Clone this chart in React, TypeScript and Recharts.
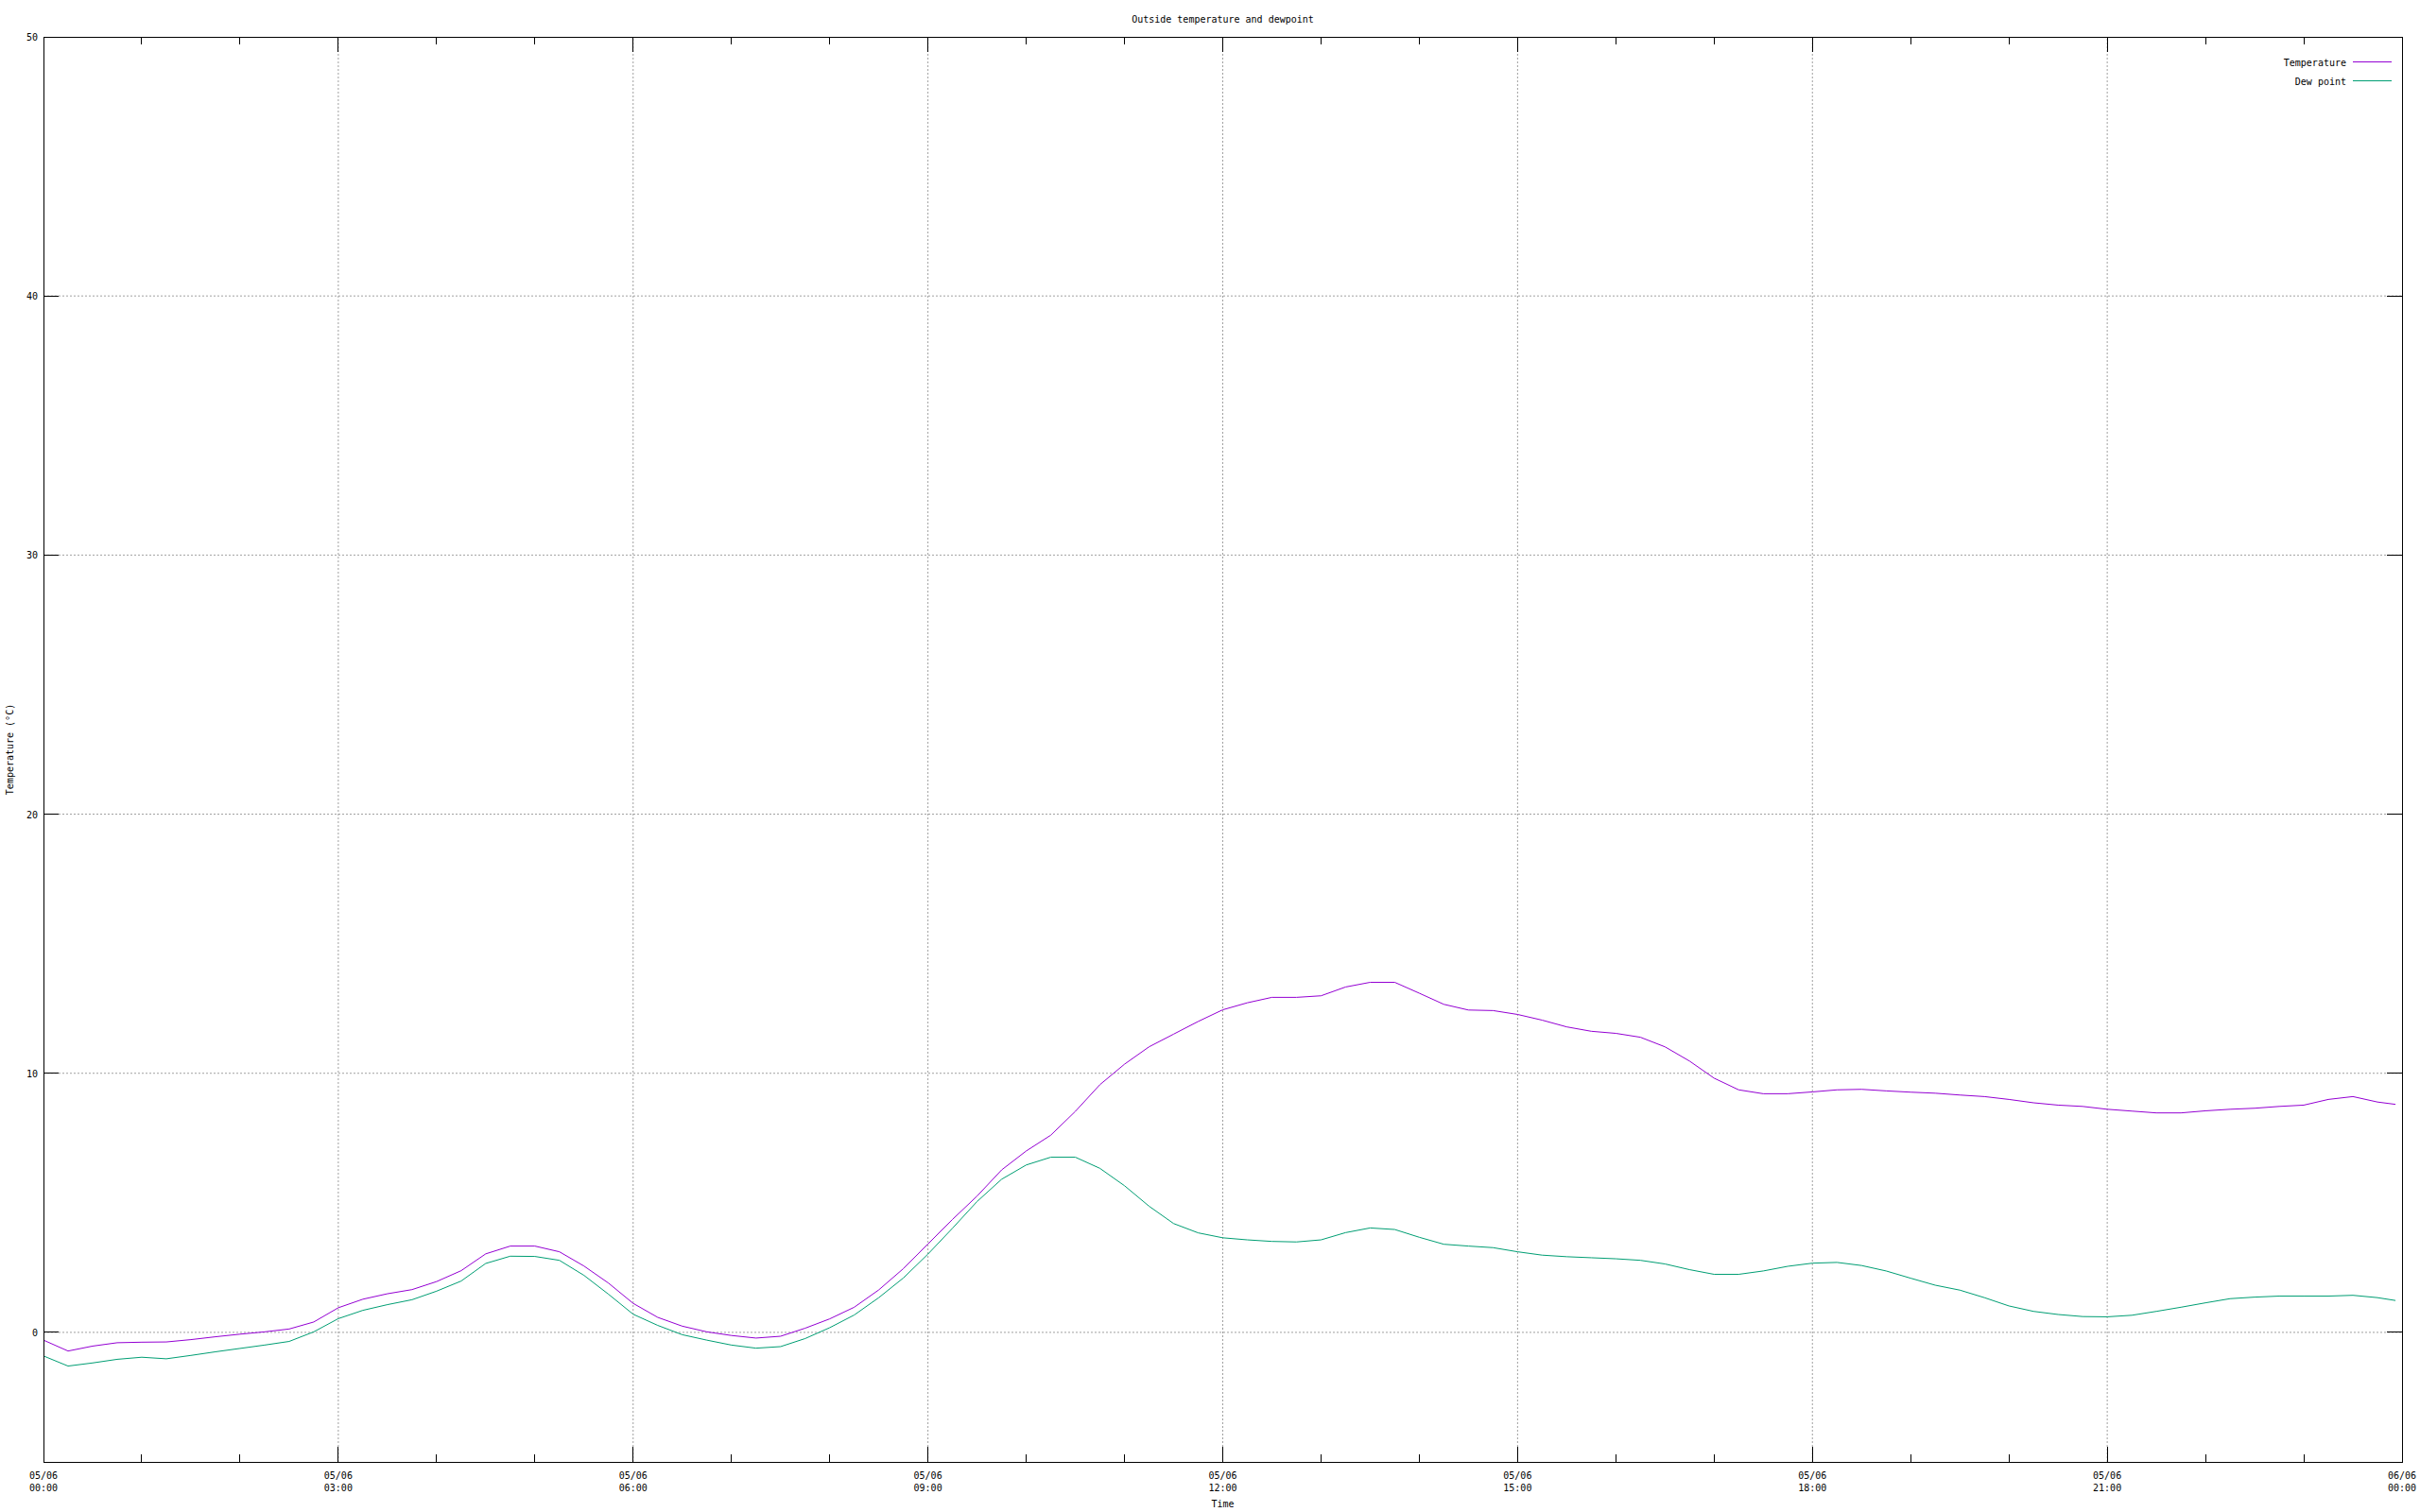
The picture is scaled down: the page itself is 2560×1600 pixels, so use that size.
import React from 'react';
import { LineChart, Line, XAxis, YAxis, ReferenceLine, ReferenceArea } from 'recharts';

// sample times (05/06), one reading per quarter hour
const times = [
  '00:00', '00:15', '00:30', '00:45', '01:00', '01:15', '01:30', '01:45',
  '02:00', '02:15', '02:30', '02:45', '03:00', '03:15', '03:30', '03:45',
  '04:00', '04:15', '04:30', '04:45', '05:00', '05:15', '05:30', '05:45',
  '06:00', '06:15', '06:30', '06:45', '07:00', '07:15', '07:30', '07:45',
  '08:00', '08:15', '08:30', '08:45', '09:00', '09:15', '09:30', '09:45',
  '10:00', '10:15', '10:30', '10:45', '11:00', '11:15', '11:30', '11:45',
  '12:00', '12:15', '12:30', '12:45', '13:00', '13:15', '13:30', '13:45',
  '14:00', '14:15', '14:30', '14:45', '15:00', '15:15', '15:30', '15:45',
  '16:00', '16:15', '16:30', '16:45', '17:00', '17:15', '17:30', '17:45',
  '18:00', '18:15', '18:30', '18:45', '19:00', '19:15', '19:30', '19:45',
  '20:00', '20:15', '20:30', '20:45', '21:00', '21:15', '21:30', '21:45',
  '22:00', '22:15', '22:30', '22:45', '23:00', '23:15', '23:30', '23:45',
  '23:56',
];

const temperature = [
  -0.30, -0.72, -0.53, -0.40, -0.38, -0.37, -0.28, -0.17,
  -0.07, 0.02, 0.13, 0.40, 0.95, 1.28, 1.49, 1.65,
  1.96, 2.38, 3.03, 3.33, 3.33, 3.11, 2.56, 1.90,
  1.12, 0.58, 0.24, 0.02, -0.12, -0.22, -0.15, 0.16,
  0.52, 0.97, 1.64, 2.46, 3.41, 4.36, 5.26, 6.27,
  7.00, 7.61, 8.53, 9.56, 10.35, 11.02, 11.51, 12.00,
  12.45, 12.72, 12.93, 12.93, 12.99, 13.33, 13.51, 13.51,
  13.09, 12.66, 12.44, 12.42, 12.27, 12.05, 11.79, 11.62,
  11.54, 11.39, 11.02, 10.47, 9.81, 9.36, 9.21, 9.21,
  9.28, 9.36, 9.38, 9.32, 9.27, 9.23, 9.16, 9.10,
  8.99, 8.86, 8.77, 8.72, 8.61, 8.54, 8.47, 8.47,
  8.55, 8.61, 8.65, 8.72, 8.77, 8.99, 9.10, 8.89,
  8.80,
];

const dewPoint = [
  -0.91, -1.30, -1.18, -1.04, -0.96, -1.02, -0.89, -0.75,
  -0.62, -0.49, -0.35, 0.02, 0.53, 0.85, 1.07, 1.26,
  1.59, 1.98, 2.66, 2.94, 2.93, 2.78, 2.20, 1.47,
  0.70, 0.27, -0.09, -0.30, -0.49, -0.61, -0.55, -0.24,
  0.18, 0.67, 1.34, 2.10, 3.02, 4.02, 5.05, 5.91,
  6.46, 6.76, 6.76, 6.33, 5.66, 4.87, 4.20, 3.84,
  3.65, 3.57, 3.51, 3.49, 3.57, 3.85, 4.03, 3.97,
  3.67, 3.40, 3.33, 3.27, 3.11, 2.98, 2.92, 2.88,
  2.84, 2.78, 2.64, 2.42, 2.24, 2.24, 2.37, 2.55,
  2.67, 2.70, 2.58, 2.37, 2.09, 1.82, 1.63, 1.34,
  1.02, 0.81, 0.69, 0.61, 0.60, 0.66, 0.81, 0.97,
  1.14, 1.30, 1.36, 1.40, 1.40, 1.40, 1.43, 1.34,
  1.23,
];

// x axis: a tick every hour, labelled every 3 hours
const hourTicks = [0, 1, 2, 3, 4, 5, 6, 7, 8, 9, 10, 11, 12, 13, 14, 15, 16, 17, 18, 19, 20, 21, 22, 23, 24];
const dateLabels = ['05/06', '05/06', '05/06', '05/06', '05/06', '05/06', '05/06', '05/06', '06/06'];
const timeLabels = ['00:00', '03:00', '06:00', '09:00', '12:00', '15:00', '18:00', '21:00', '00:00'];
const gridHours = [3, 6, 9, 12, 15, 18, 21];

const tempTicks = [0, 10, 20, 30, 40, 50];
const gridTemps = [0, 10, 20, 30, 40];

const W = 2560;
const H = 1600;
const LEFT = 46;
const RIGHT = 2541;
const TOP = 39;
const BOTTOM = 1547;

const FONT = '"DejaVu Sans Mono", "Liberation Mono", monospace';
const TEMP_COLOR = '#9400d3';
const DEW_COLOR = '#009e73';
const GRID_COLOR = '#a0a0a0';

const toHours = (t: string) => {
  const [hh, mm] = t.split(':').map(Number);
  return hh + mm / 60;
};

const data = times.map((t, i) => ({
  h: toHours(t),
  temperature: temperature[i],
  dewPoint: dewPoint[i],
}));

// ticks go inward, mirrored on the top border
const BottomTick = ({ x, y, payload }: any) => {
  const h = payload.value;
  const major = h % 3 === 0;
  const len = major ? 16 : 8;
  return (
    <g shapeRendering="crispEdges">
      <line x1={x} x2={x} y1={y} y2={y - len} stroke="#000" />
      <line x1={x} x2={x} y1={TOP} y2={TOP + len} stroke="#000" />
      {major && (
        <text x={x} y={y + 18} textAnchor="middle" fontFamily={FONT} fontSize={10} fill="#000">
          <tspan x={x}>{dateLabels[h / 3]}</tspan>
          <tspan x={x} dy={13}>{timeLabels[h / 3]}</tspan>
        </text>
      )}
    </g>
  );
};

const LeftTick = ({ x, y, payload }: any) => (
  <g shapeRendering="crispEdges">
    <line x1={x} x2={x + 16} y1={y} y2={y} stroke="#000" />
    <line x1={RIGHT} x2={RIGHT - 16} y1={y} y2={y} stroke="#000" />
    <text x={x - 6} y={y + 4} textAnchor="end" fontFamily={FONT} fontSize={10} fill="#000">
      {payload.value}
    </text>
  </g>
);

export default function App() {
  const midX = (LEFT + RIGHT) / 2;
  const midY = (TOP + BOTTOM) / 2;
  return (
    <div style={{ position: 'absolute', left: 0, top: 0, width: W, height: H, background: '#fff' }}>
      <LineChart width={W} height={H} data={data} margin={{ top: TOP, right: W - RIGHT, bottom: 0, left: 0 }}>
        <XAxis
          dataKey="h"
          type="number"
          domain={[0, 24]}
          ticks={hourTicks}
          interval={0}
          height={H - BOTTOM}
          tickSize={0}
          tickMargin={0}
          tickLine={false}
          tick={<BottomTick />}
          axisLine={{ stroke: '#000', shapeRendering: 'crispEdges' }}
          allowDataOverflow
        />
        <YAxis
          type="number"
          domain={[-5, 50]}
          ticks={tempTicks}
          interval={0}
          width={LEFT}
          tickSize={0}
          tickMargin={0}
          tickLine={false}
          tick={<LeftTick />}
          axisLine={{ stroke: '#000', shapeRendering: 'crispEdges' }}
          allowDataOverflow
        />
        {gridHours.map((h) => (
          <ReferenceLine key={`gx-${h}`} x={h} stroke={GRID_COLOR} strokeDasharray="2 2" />
        ))}
        {gridTemps.map((v) => (
          <ReferenceLine key={`gy-${v}`} y={v} stroke={GRID_COLOR} strokeDasharray="2 2" />
        ))}
        <ReferenceArea x1={0} x2={24} y1={-5} y2={50} fill="none" stroke="#000" strokeWidth={1} shapeRendering="crispEdges" />
        <Line
          type="linear"
          dataKey="temperature"
          name="Temperature"
          stroke={TEMP_COLOR}
          strokeWidth={1}
          dot={false}
          isAnimationActive={false}
        />
        <Line
          type="linear"
          dataKey="dewPoint"
          name="Dew point"
          stroke={DEW_COLOR}
          strokeWidth={1}
          dot={false}
          isAnimationActive={false}
        />
      </LineChart>
      <svg
        width={W}
        height={H}
        style={{ position: 'absolute', left: 0, top: 0, pointerEvents: 'none' }}
        fontFamily={FONT}
        fontSize={10}
      >
        <text x={midX} y={24} textAnchor="middle" fill="#000">Outside temperature and dewpoint</text>
        <text x={midX} y={1595} textAnchor="middle" fill="#000">Time</text>
        <text x={14} y={midY} textAnchor="middle" fill="#000" transform={`rotate(-90 14 ${midY})`}>
          Temperature (°C)
        </text>
        <text x={2482} y={70} textAnchor="end" fill="#000">Temperature</text>
        <line x1={2489} x2={2530} y1={65.5} y2={65.5} stroke={TEMP_COLOR} />
        <text x={2482} y={90} textAnchor="end" fill="#000">Dew point</text>
        <line x1={2489} x2={2530} y1={85.5} y2={85.5} stroke={DEW_COLOR} />
      </svg>
    </div>
  );
}
